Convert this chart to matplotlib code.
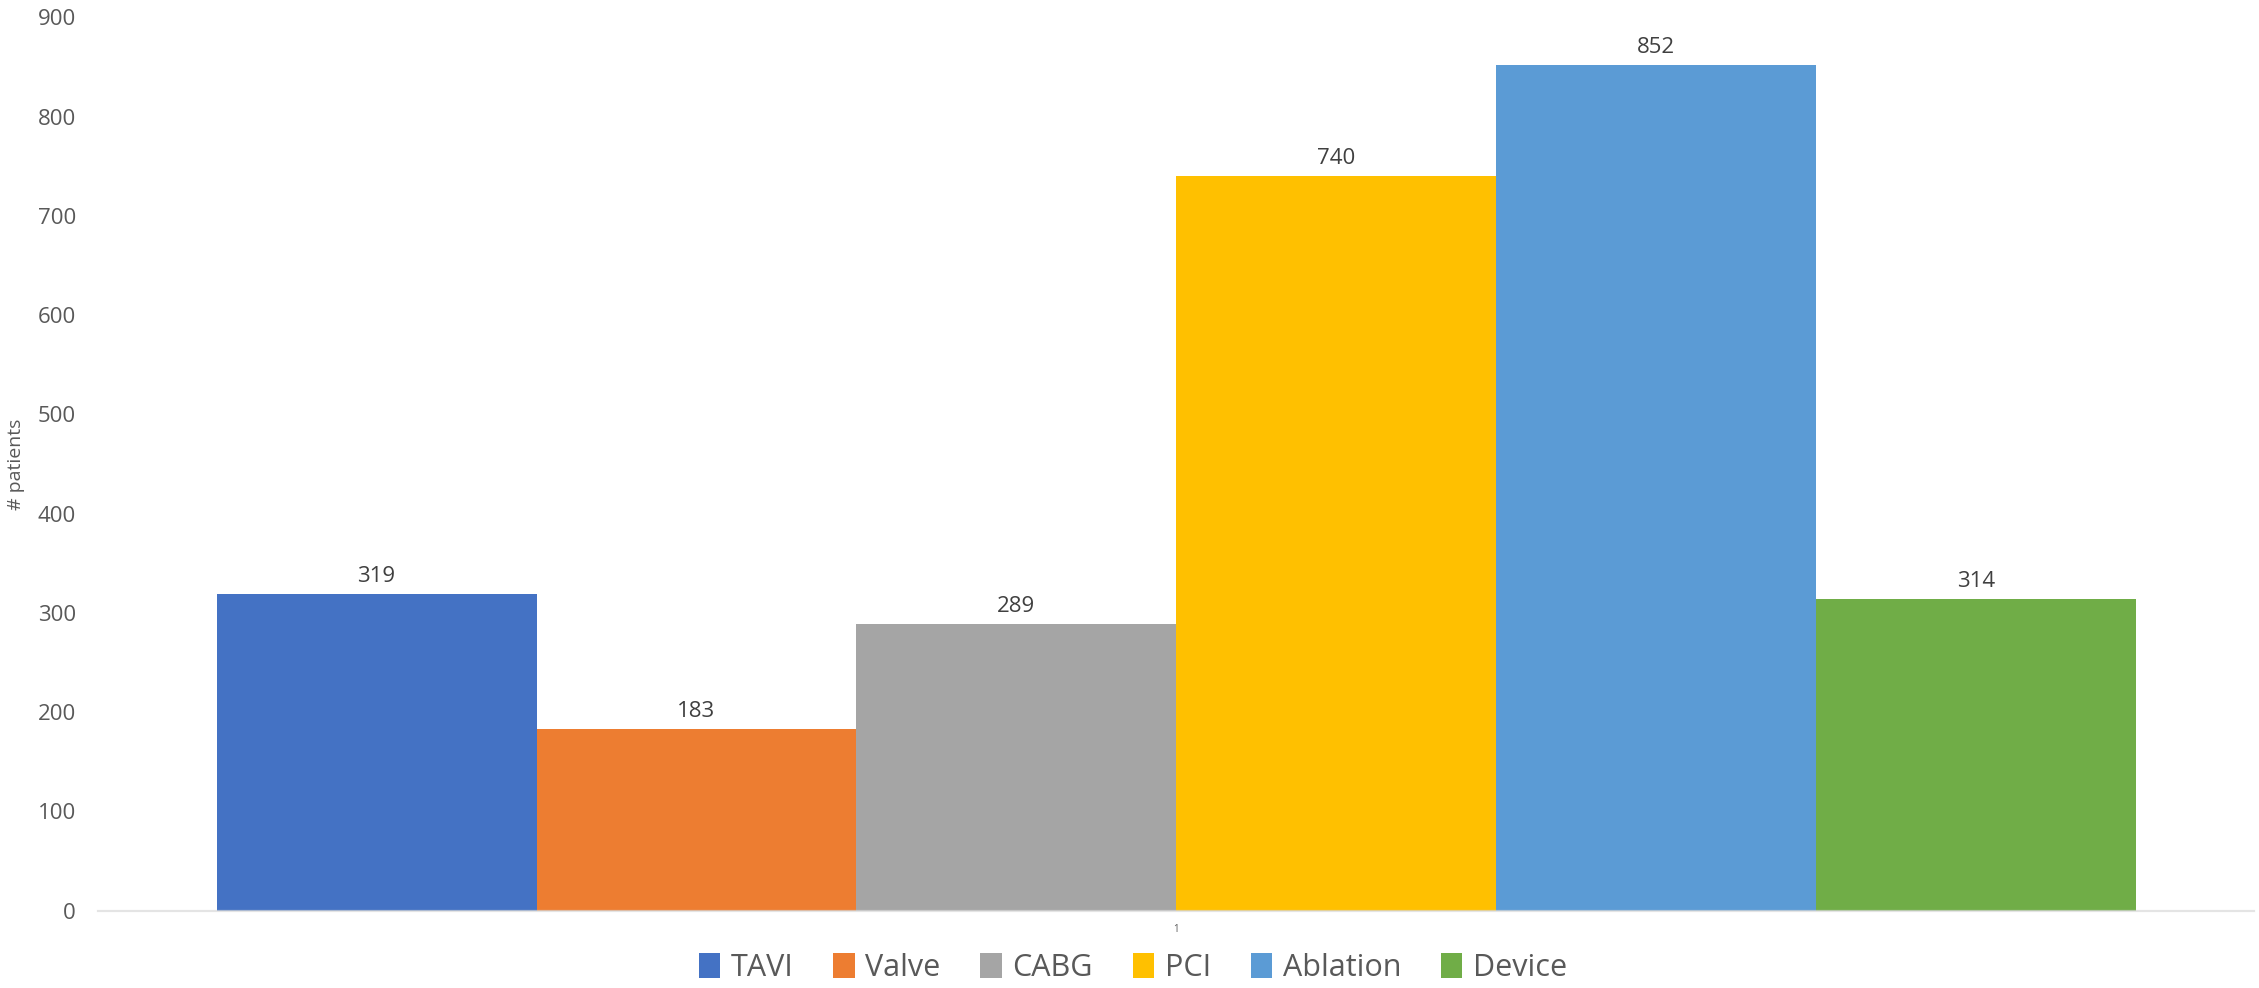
import matplotlib
matplotlib.use("Agg")
import matplotlib.pyplot as plt
import numpy as np

categories = ["1"]
series_names = ["TAVI", "Valve", "CABG", "PCI", "Ablation", "Device"]
series_values = [319, 183, 289, 740, 852, 314]
series_colors = ["#4472C4", "#ED7D31", "#A5A5A5", "#FFC000", "#5B9BD5", "#70AD47"]
y_ticks = [0, 100, 200, 300, 400, 500, 600, 700, 800, 900]

plt.rcParams['font.family'] = ['Open Sans', 'DejaVu Sans']

fig = plt.figure(figsize=(22.59, 9.88), dpi=100)
ax = fig.add_axes([0.0434, 0.0784, 0.9546, 0.9041])

n = len(series_names)
group = 0.89
w = group / n
x0 = np.arange(len(categories))
handles = []
for i, (name, val, col) in enumerate(zip(series_names, series_values, series_colors)):
    off = (i - (n - 1) / 2) * w
    b = ax.bar(x0 + off, [val], width=w, color=col, label=name, zorder=2,
               linewidth=0)
    ax.bar_label(b, labels=[str(val)], padding=5, fontsize=16, color="#404040")
    handles.append(b)

ax.set_xlim(-0.5, 0.5)
ax.set_ylim(0, 900)
ax.set_yticks(y_ticks)
ax.set_yticklabels([str(t) for t in y_ticks], fontsize=16, color="#595959")
ax.set_xticks(x0)
ax.set_xticklabels(categories, fontsize=7, color="#595959")
ax.tick_params(axis='both', length=0)
ax.tick_params(axis='y', pad=16)
ax.tick_params(axis='x', pad=10)

for s in ["top", "right", "left"]:
    ax.spines[s].set_visible(False)
ax.spines["bottom"].set_color("#D9D9D9")
ax.spines["bottom"].set_alpha(0.7)
ax.spines["bottom"].set_linewidth(1.6)
ax.spines["bottom"].set_zorder(3)

ax.set_ylabel("# patients", fontsize=14, color="#595959")
ax.yaxis.set_label_coords(-0.0338, 0.5)

leg = fig.legend(handles=handles, labels=series_names, loc="center",
                 bbox_to_anchor=(0.5015, 0.02), ncol=n, frameon=False,
                 fontsize=22, handlelength=0.7, handleheight=0.9,
                 handletextpad=0.35, columnspacing=1.3)
for t in leg.get_texts():
    t.set_color("#595959")

fig.savefig("out.png", dpi=100)
